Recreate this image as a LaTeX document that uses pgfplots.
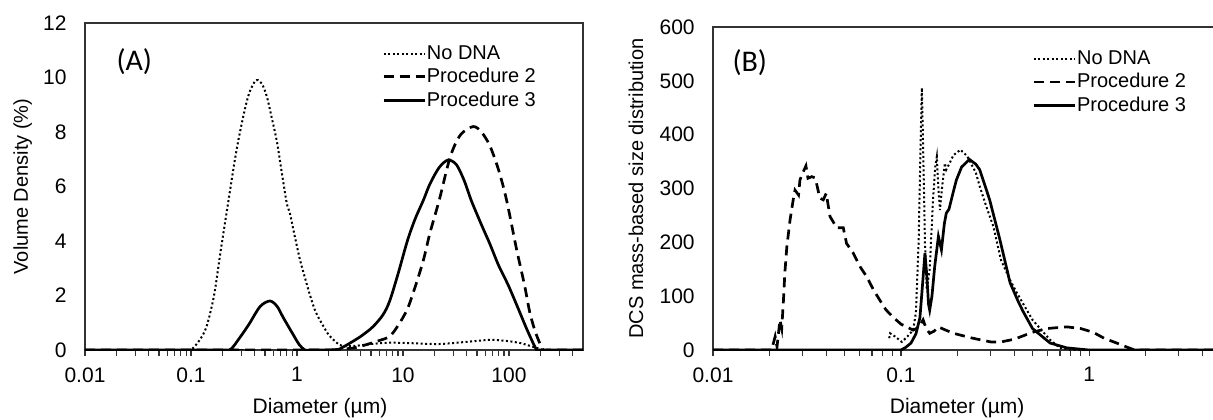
\documentclass[border=0pt]{standalone}
\usepackage{fontspec}
\setmainfont{Liberation Sans}
\newfontfamily\calibri{Carlito}
\usepackage{pgfplots}
\pgfplotsset{compat=1.18}

\tikzset{
  nodna/.style={black, line width=1pt, line cap=butt, dash pattern=on 1pt off 1.25pt},
  proc2/.style={black, line width=1.35pt, dash pattern=on 5pt off 3pt},
  proc3/.style={black, line width=1.35pt},
}
\pgfplotsset{
  every axis/.append style={
    scale only axis, ymin=0,
    axis line style={black!80, line width=0.8pt},
    tick align=outside, xtick pos=bottom, ytick pos=left,
    major tick length=3pt, minor tick length=3pt,
    tick style={black!80, line width=0.6pt},
    ytick style={draw=none},
    tick label style={font=\fontsize{10.5}{12}\selectfont},
    yticklabel style={inner sep=0pt, xshift=-6pt},
    xticklabel style={inner sep=0pt, yshift=-5.5pt},
    label style={font=\fontsize{10.5}{12}\selectfont},
    legend cell align=left,
    legend style={draw=none, fill=none, font=\fontsize{10}{12}\selectfont,
      inner sep=0pt, row sep=2pt, nodes={inner sep=0.5pt}},
  },
}

\begin{document}
\begin{tikzpicture}
% ---------------- Panel A ----------------
\begin{axis}[name=A, at={(0,0)}, anchor=south west, xmode=log,
  /pgf/number format/assume math mode=true,
  legend image code/.code={\draw[#1] (0pt,0pt) -- (20.5pt,0pt);},
  width=249pt, height=163.5pt,
  xmin=0.01, xmax=500, ymax=12,
  xtick={0.01,0.1,1,10,100}, xticklabels={0.01,0.1,1,10,100},
  minor xtick={0.02,0.03,0.04,0.05,0.06,0.07,0.08,0.09,0.2,0.3,0.4,0.5,0.6,0.7,0.8,0.9,2,3,4,5,6,7,8,9,20,30,40,50,60,70,80,90,200,300,400},
  ytick={0,2,4,6,8,10,12},
  xlabel={Diameter (µm)},
  xlabel style={at={(rel axis cs:0.5,0)}, anchor=north, inner sep=0pt, xshift=-7pt, yshift=-24pt},
  ylabel={Volume Density (\%)},
  every axis y label/.style={at={(rel axis cs:0,0.5)}, xshift=-28.5pt, rotate=90, anchor=base, inner sep=0pt},
  legend style={at={(rel axis cs:0.596,0.936)}, anchor=north west},
]
\addplot[nodna, smooth, tension=0.5] coordinates {
(0.01,0) (0.05,0) (0.09,0) (0.1,0) (0.12,0.35) (0.14,0.85) (0.165,2.0) (0.19,3.6) (0.22,5.2)
(0.26,7.0) (0.29,8.0) (0.33,9.0) (0.36,9.5) (0.40,9.85) (0.43,9.9) (0.47,9.75)
(0.52,9.3) (0.58,8.5) (0.65,7.6) (0.72,6.5) (0.80,5.4) (0.86,5.0) (0.95,4.2)
(1.07,3.3) (1.2,2.6) (1.33,2.0) (1.5,1.4) (1.76,0.9) (2.0,0.55) (2.4,0.25)
(2.7,0.15) (3.5,0.15) (5,0.22) (7.5,0.27) (12,0.25) (22,0.22) (40,0.3) (66,0.37)
(96,0.33) (130,0.25) (158,0.15) (185,0.07) (210,0) (230,0) (500,0)
};
\addlegendentry{No DNA}
\addplot[proc2, smooth, tension=0.5] coordinates {
(0.01,0) (1.5,0) (2.0,0) (3.0,0.05) (3.7,0.1) (5,0.25) (6,0.35) (7.5,0.5) (9,0.9) (11,1.5)
(13,2.3) (15.6,3.3) (18,4.3) (22,5.5) (28,7.1) (35,7.9) (46,8.2) (55,8.0) (66,7.5)
(80,6.6) (95,5.5) (118,3.7) (140,2.4) (158,1.35) (180,0.6) (210,0) (230,0) (500,0)
};
\addlegendentry{Procedure 2}
\addplot[proc3, smooth, tension=0.5] coordinates {
(0.01,0) (0.2,0) (0.23,0) (0.25,0.12) (0.28,0.38) (0.32,0.7) (0.36,1.0) (0.45,1.6) (0.556,1.8)
(0.65,1.6) (0.74,1.2) (0.91,0.6) (1.05,0.2) (1.19,0) (1.35,0) (2.1,0) (2.4,0) (2.7,0.1)
(3,0.2) (4,0.5) (5.2,0.85) (6.5,1.3) (7.5,1.8)
(9,2.8) (11,4.0) (13,4.8) (15.6,5.5) (18,6.1) (22,6.7) (26.6,6.97) (32,6.8) (38,6.2)
(44,5.5) (55,4.6) (66,3.9) (80,3.1) (98,2.4) (120,1.6) (150,0.7) (183,0) (200,0) (500,0)
};
\addlegendentry{Procedure 3}
\node[font=\calibri\fontsize{15}{17}\selectfont] at (rel axis cs:0.099,0.881) {(A)};
\end{axis}

% ---------------- Panel B ----------------
\begin{axis}[name=B, at={(314pt,0)}, anchor=south west, xmode=log,
  /pgf/number format/assume math mode=true,
  legend image code/.code={\draw[#1] (0pt,0pt) -- (20.5pt,0pt);},
  width=261.2pt, height=161.5pt,
  xmin=0.01, xmax=6, ymax=600,
  xtick={0.01,0.1,1}, xticklabels={0.01,0.1,1},
  minor xtick={0.02,0.03,0.04,0.05,0.06,0.07,0.08,0.09,0.2,0.3,0.4,0.5,0.6,0.7,0.8,0.9,2,3,4,5},
  ytick={0,100,200,300,400,500,600},
  xlabel={Diameter (µm)},
  xlabel style={at={(rel axis cs:0.5,0)}, anchor=north, inner sep=0pt, xshift=-8.5pt, yshift=-24pt},
  ylabel={DCS mass-based size distribution},
  every axis y label/.style={at={(rel axis cs:0,0.5)}, xshift=-35pt, rotate=90, anchor=base, inner sep=0pt},
  legend style={at={(axis cs:0.497,600)}, yshift=-11pt, anchor=north west},
]
\addplot[nodna] coordinates {
(0.0865,22) (0.0875,31) (0.093,25) (0.101,15) (0.108,25) (0.116,37) (0.12,70)
(0.124,200) (0.127,380) (0.129,487) (0.131,380) (0.134,200) (0.137,112) (0.142,150)
(0.148,280) (0.152,340) (0.155,359) (0.158,300) (0.161,260) (0.165,300) (0.171,347)
(0.174,335) (0.18,345) (0.19,362) (0.207,372) (0.225,360) (0.25,329) (0.262,304)
(0.285,265) (0.31,229) (0.34,167) (0.38,130) (0.41,108) (0.5,56) (0.62,19) (0.7,4)
(0.8,0) (6,0)
};
\addlegendentry{No DNA}
\addplot[proc2] coordinates {
(0.01,0) (0.0205,0) (0.0214,25) (0.0219,6) (0.0227,56) (0.0232,40) (0.0237,93)
(0.0241,143) (0.0247,192) (0.0257,242) (0.0267,279) (0.0273,297) (0.0285,288)
(0.029,316) (0.0302,331) (0.0312,342) (0.032,319) (0.0335,322) (0.0348,320)
(0.0355,310) (0.037,282) (0.0386,279) (0.040,291) (0.0419,248) (0.0455,227)
(0.0493,227) (0.0513,198) (0.0557,180) (0.0605,155) (0.0657,136) (0.0713,112)
(0.077,93) (0.083,75) (0.09,62) (0.1,48) (0.107,43) (0.116,37) (0.124,42) (0.131,56)
(0.136,40) (0.142,31) (0.15,35) (0.158,43) (0.17,38) (0.19,31) (0.24,22) (0.3,15)
(0.34,15) (0.4,20) (0.5,33) (0.6,40) (0.76,43) (0.9,40) (1.05,33) (1.2,22) (1.4,13)
(1.6,5) (1.75,0) (6,0)
};
\addlegendentry{Procedure 2}
\addplot[proc3] coordinates {
(0.01,0) (0.1,0) (0.106,5) (0.113,13) (0.12,30) (0.126,60) (0.13,120) (0.134,180)
(0.137,140) (0.14,85) (0.142,74) (0.146,100) (0.151,155) (0.158,211) (0.164,186)
(0.17,235) (0.174,254) (0.18,262) (0.19,295) (0.197,316) (0.21,340) (0.231,354)
(0.25,345) (0.262,335) (0.296,279) (0.336,204) (0.38,125) (0.42,90) (0.445,72)
(0.5,40) (0.62,13) (0.76,4) (1.0,0) (6,0)
};
\addlegendentry{Procedure 3}
\node[font=\calibri\fontsize{15}{17}\selectfont] at (axis cs:0.0157,533) {(B)};
\end{axis}
\pgfresetboundingbox
\path[use as bounding box] (-42.5pt,-34.5pt) rectangle (564pt,175pt);
\end{tikzpicture}
\end{document}
